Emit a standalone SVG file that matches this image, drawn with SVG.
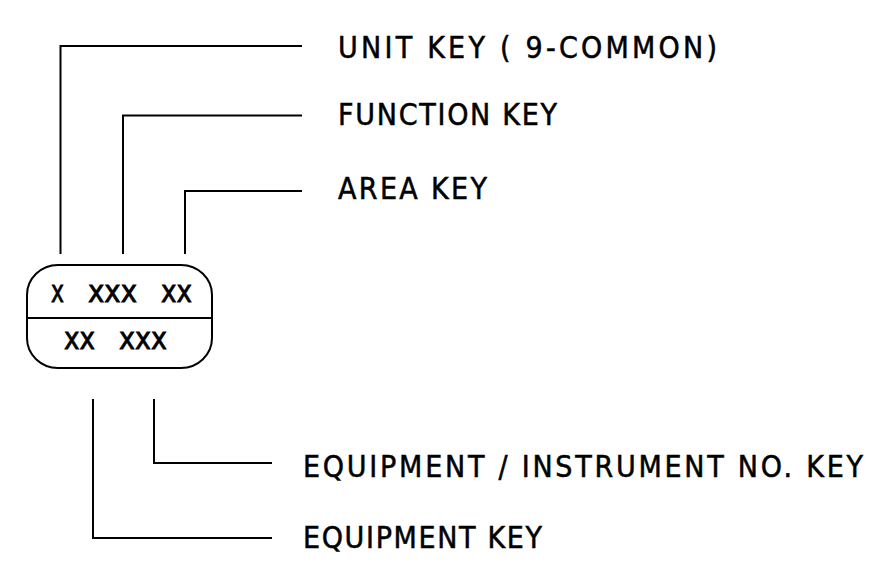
<svg xmlns="http://www.w3.org/2000/svg" width="871" height="561" viewBox="0 0 871 561">
<style>
.ln{fill:none;stroke:#000;stroke-width:2;stroke-linecap:butt;stroke-linejoin:miter}
.t{font-family:"DejaVu Sans Condensed","DejaVu Sans","Liberation Sans",sans-serif;font-size:30px;fill:#000;stroke:#000;stroke-width:0.5}
.x{font-family:"DejaVu Sans","Liberation Sans",sans-serif;font-size:30px;fill:#000;stroke:#000;stroke-width:0.8}
</style>
<rect width="871" height="561" fill="#fff"/>
<g id="tag">
<rect class="ln" x="27" y="265" width="185" height="103" rx="31" ry="30"/>
<line class="ln" x1="27" y1="318" x2="212" y2="318"/>
<text class="x" x="51" y="302" textLength="13" lengthAdjust="spacingAndGlyphs">x</text>
<text class="x" x="88" y="302" textLength="49" lengthAdjust="spacingAndGlyphs">xxx</text>
<text class="x" x="161" y="302" textLength="31" lengthAdjust="spacingAndGlyphs">xx</text>
<text class="x" x="64" y="349" textLength="31" lengthAdjust="spacingAndGlyphs">xx</text>
<text class="x" x="119" y="349" textLength="48" lengthAdjust="spacingAndGlyphs">xxx</text>
</g>
<g id="connectors">
<polyline class="ln" points="60.5,254 60.5,46 302,46"/>
<polyline class="ln" points="123,254 123,115.5 302,115.5"/>
<polyline class="ln" points="185,254 185,191 302,191"/>
<polyline class="ln" points="154,399 154,463 272,463"/>
<polyline class="ln" points="93,399 93,538 272,538"/>
</g>
<g id="label-unit">
<text class="t" x="338" y="58" textLength="379" lengthAdjust="spacing">UNIT KEY ( 9-COMMON)</text>
</g>
<g id="label-function">
<text class="t" x="338" y="124.5" textLength="219" lengthAdjust="spacing">FUNCTION KEY</text>
</g>
<g id="label-area">
<text class="t" x="338" y="199" textLength="149" lengthAdjust="spacing">AREA KEY</text>
</g>
<g id="label-instrument">
<text class="t" x="303" y="477" textLength="560" lengthAdjust="spacing">EQUIPMENT / INSTRUMENT NO. KEY</text>
</g>
<g id="label-equipment">
<text class="t" x="303" y="548" textLength="239" lengthAdjust="spacing">EQUIPMENT KEY</text>
</g>
</svg>
